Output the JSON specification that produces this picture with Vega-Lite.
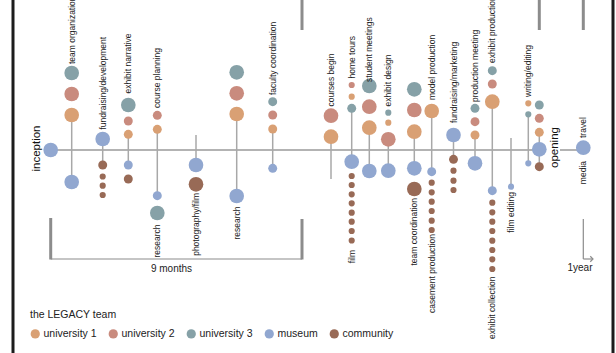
{
  "$schema": "https://vega.github.io/schema/vega-lite/v6.json",
  "width": 616,
  "height": 353,
  "padding": 0,
  "autosize": {"type": "none"},
  "background": "white",
  "config": {"view": {"stroke": null}, "font": "Liberation Sans"},
  "datasets": {
    "nodes": [
      {"t": 50.7, "v": 150, "team": "museum", "level": "large"},
      {"t": 71.7, "v": 73, "team": "university 3", "level": "large"},
      {"t": 71.7, "v": 94, "team": "university 2", "level": "large"},
      {"t": 71.7, "v": 115, "team": "university 1", "level": "large"},
      {"t": 71.7, "v": 182, "team": "museum", "level": "large"},
      {"t": 102.7, "v": 139, "team": "museum", "level": "large"},
      {"t": 102.7, "v": 165, "team": "community", "level": "medium"},
      {"t": 102.7, "v": 176.5, "team": "community", "level": "small"},
      {"t": 102.7, "v": 185.7, "team": "community", "level": "small"},
      {"t": 102.7, "v": 195, "team": "community", "level": "small"},
      {"t": 128.3, "v": 105, "team": "university 3", "level": "large"},
      {"t": 128.3, "v": 121, "team": "university 2", "level": "medium"},
      {"t": 128.3, "v": 134.3, "team": "university 1", "level": "medium"},
      {"t": 128.3, "v": 165, "team": "museum", "level": "medium"},
      {"t": 128.3, "v": 179, "team": "community", "level": "medium"},
      {"t": 157.3, "v": 115.3, "team": "university 2", "level": "medium"},
      {"t": 157.3, "v": 129.3, "team": "university 1", "level": "medium"},
      {"t": 157.3, "v": 195.7, "team": "museum", "level": "medium"},
      {"t": 157.3, "v": 213, "team": "university 3", "level": "large"},
      {"t": 196, "v": 165, "team": "museum", "level": "large"},
      {"t": 196, "v": 184.3, "team": "community", "level": "large"},
      {"t": 236.7, "v": 72.3, "team": "university 3", "level": "large"},
      {"t": 236.7, "v": 93.3, "team": "university 2", "level": "large"},
      {"t": 236.7, "v": 114, "team": "university 1", "level": "large"},
      {"t": 236.7, "v": 196, "team": "museum", "level": "large"},
      {"t": 272.7, "v": 101.7, "team": "university 3", "level": "medium"},
      {"t": 272.7, "v": 115, "team": "university 2", "level": "medium"},
      {"t": 272.7, "v": 129, "team": "university 1", "level": "medium"},
      {"t": 272.7, "v": 168.3, "team": "museum", "level": "medium"},
      {"t": 331, "v": 115.7, "team": "university 2", "level": "large"},
      {"t": 331, "v": 136.7, "team": "university 1", "level": "large"},
      {"t": 351.7, "v": 85, "team": "university 2", "level": "small"},
      {"t": 351.7, "v": 96.7, "team": "university 1", "level": "small"},
      {"t": 351.7, "v": 108.3, "team": "university 3", "level": "medium"},
      {"t": 351.7, "v": 161.7, "team": "museum", "level": "large"},
      {"t": 351.7, "v": 176, "team": "community", "level": "small"},
      {"t": 351.7, "v": 185, "team": "community", "level": "small"},
      {"t": 351.7, "v": 194.3, "team": "community", "level": "small"},
      {"t": 351.7, "v": 203.3, "team": "community", "level": "small"},
      {"t": 351.7, "v": 212.7, "team": "community", "level": "small"},
      {"t": 351.7, "v": 221.7, "team": "community", "level": "small"},
      {"t": 351.7, "v": 231, "team": "community", "level": "small"},
      {"t": 351.7, "v": 240.5, "team": "community", "level": "small"},
      {"t": 369.3, "v": 86, "team": "university 3", "level": "large"},
      {"t": 369.3, "v": 106.7, "team": "university 2", "level": "large"},
      {"t": 369.3, "v": 127.7, "team": "university 1", "level": "large"},
      {"t": 369.3, "v": 171, "team": "museum", "level": "large"},
      {"t": 388.3, "v": 112.7, "team": "university 3", "level": "small"},
      {"t": 388.3, "v": 122.7, "team": "university 1", "level": "small"},
      {"t": 388.3, "v": 139.3, "team": "university 2", "level": "large"},
      {"t": 388.3, "v": 170.7, "team": "museum", "level": "large"},
      {"t": 414.3, "v": 89.3, "team": "university 3", "level": "large"},
      {"t": 414.3, "v": 110, "team": "university 2", "level": "large"},
      {"t": 414.3, "v": 131.7, "team": "university 1", "level": "large"},
      {"t": 414.3, "v": 168.3, "team": "museum", "level": "large"},
      {"t": 414.3, "v": 189, "team": "community", "level": "large"},
      {"t": 431.7, "v": 111, "team": "university 1", "level": "large"},
      {"t": 431.7, "v": 171.7, "team": "museum", "level": "medium"},
      {"t": 431.7, "v": 182.7, "team": "community", "level": "small"},
      {"t": 431.7, "v": 192.3, "team": "community", "level": "small"},
      {"t": 431.7, "v": 201.7, "team": "community", "level": "small"},
      {"t": 431.7, "v": 211, "team": "community", "level": "small"},
      {"t": 431.7, "v": 220.7, "team": "community", "level": "small"},
      {"t": 431.7, "v": 230, "team": "community", "level": "small"},
      {"t": 453.5, "v": 135, "team": "museum", "level": "large"},
      {"t": 453.5, "v": 159.3, "team": "community", "level": "medium"},
      {"t": 453.5, "v": 170.7, "team": "community", "level": "small"},
      {"t": 453.5, "v": 180.7, "team": "community", "level": "small"},
      {"t": 453.5, "v": 190, "team": "community", "level": "small"},
      {"t": 475, "v": 108.3, "team": "university 3", "level": "medium"},
      {"t": 475, "v": 121.7, "team": "university 2", "level": "medium"},
      {"t": 475, "v": 135, "team": "university 1", "level": "medium"},
      {"t": 475, "v": 163.3, "team": "museum", "level": "large"},
      {"t": 492.3, "v": 70.7, "team": "university 3", "level": "medium"},
      {"t": 492.3, "v": 84, "team": "university 2", "level": "medium"},
      {"t": 492.3, "v": 101.7, "team": "university 1", "level": "large"},
      {"t": 492.3, "v": 190.7, "team": "museum", "level": "medium"},
      {"t": 492.3, "v": 202.7, "team": "community", "level": "small"},
      {"t": 492.3, "v": 212.3, "team": "community", "level": "small"},
      {"t": 492.3, "v": 221.7, "team": "community", "level": "small"},
      {"t": 492.3, "v": 231, "team": "community", "level": "small"},
      {"t": 492.3, "v": 240.7, "team": "community", "level": "small"},
      {"t": 492.3, "v": 250, "team": "community", "level": "small"},
      {"t": 492.3, "v": 259.3, "team": "community", "level": "small"},
      {"t": 492.3, "v": 269, "team": "community", "level": "small"},
      {"t": 511, "v": 186.7, "team": "museum", "level": "small"},
      {"t": 528.3, "v": 103.3, "team": "university 1", "level": "small"},
      {"t": 528.3, "v": 114.3, "team": "university 3", "level": "small"},
      {"t": 528.3, "v": 163.3, "team": "museum", "level": "small"},
      {"t": 539.3, "v": 105, "team": "university 3", "level": "medium"},
      {"t": 539.3, "v": 118.3, "team": "university 2", "level": "medium"},
      {"t": 539.3, "v": 132.3, "team": "university 1", "level": "medium"},
      {"t": 539.3, "v": 149.3, "team": "museum", "level": "large"},
      {"t": 539.3, "v": 166.7, "team": "community", "level": "medium"},
      {"t": 583.3, "v": 147.7, "team": "museum", "level": "large"}
    ],
    "stems": [
      {"t": 71.7, "v": 115, "v2": 182},
      {"t": 102.7, "v": 139, "v2": 165},
      {"t": 128.3, "v": 134.3, "v2": 165},
      {"t": 157.3, "v": 129.3, "v2": 195.7},
      {"t": 196, "v": 135, "v2": 165},
      {"t": 236.7, "v": 114, "v2": 196},
      {"t": 272.7, "v": 129, "v2": 168.3},
      {"t": 331, "v": 136.7, "v2": 179},
      {"t": 351.7, "v": 108.3, "v2": 161.7},
      {"t": 369.3, "v": 127.7, "v2": 171},
      {"t": 388.3, "v": 139.3, "v2": 170.7},
      {"t": 414.3, "v": 131.7, "v2": 168.3},
      {"t": 431.7, "v": 111, "v2": 171.7},
      {"t": 453.5, "v": 135, "v2": 159.3},
      {"t": 475, "v": 135, "v2": 163.3},
      {"t": 492.3, "v": 101.7, "v2": 190.7},
      {"t": 511, "v": 138, "v2": 186.7},
      {"t": 528.3, "v": 114.3, "v2": 163.3},
      {"t": 539.3, "v": 132.3, "v2": 166.7}
    ],
    "guides": [
      {"kind": "border", "t": 13, "t2": 13, "v": 0, "v2": 353},
      {"kind": "border", "t": 613, "t2": 613, "v": 0, "v2": 353},
      {"kind": "timeline", "t": 50.7, "t2": 541, "v": 150, "v2": 150},
      {"kind": "timeline", "t": 560, "t2": 583.3, "v": 150, "v2": 150},
      {"kind": "marker", "t": 302, "t2": 302, "v": 0, "v2": 30},
      {"kind": "marker", "t": 539.3, "t2": 539.3, "v": 0, "v2": 30},
      {"kind": "marker", "t": 583.3, "t2": 583.3, "v": 0, "v2": 30},
      {"kind": "marker", "t": 50.7, "t2": 50.7, "v": 218, "v2": 259.5},
      {"kind": "marker", "t": 302, "t2": 302, "v": 219, "v2": 259.5},
      {"kind": "bracket", "t": 50.7, "t2": 302, "v": 259, "v2": 259},
      {"kind": "bracket", "t": 583.3, "t2": 583.3, "v": 219, "v2": 259},
      {"kind": "bracket", "t": 583.3, "t2": 593, "v": 259, "v2": 259}
    ],
    "labels": [
      {"side": "above", "t": 71.7, "v": 64, "label": "team organization"},
      {"side": "above", "t": 102.7, "v": 129.5, "label": "fundraising/development"},
      {"side": "above", "t": 128.3, "v": 93.5, "label": "exhibit narrative"},
      {"side": "above", "t": 157.3, "v": 108, "label": "course planning"},
      {"side": "above", "t": 272.7, "v": 95, "label": "faculty coordination"},
      {"side": "above", "t": 331, "v": 106.5, "label": "courses begin"},
      {"side": "above", "t": 351.7, "v": 78.5, "label": "home tours"},
      {"side": "above", "t": 369.3, "v": 82, "label": "student meetings"},
      {"side": "above", "t": 388.3, "v": 106.5, "label": "exhibit design"},
      {"side": "above", "t": 431.7, "v": 100, "label": "model production"},
      {"side": "above", "t": 453.5, "v": 123, "label": "fundraising/marketing"},
      {"side": "above", "t": 475, "v": 102, "label": "production meeting"},
      {"side": "above", "t": 492.3, "v": 63, "label": "exhibit production"},
      {"side": "above", "t": 528.3, "v": 97, "label": "writing/editing"},
      {"side": "above", "t": 583.3, "v": 138, "label": "travel"},
      {"side": "below", "t": 157.3, "v": 224.5, "label": "research"},
      {"side": "below", "t": 196, "v": 193, "label": "photography/film"},
      {"side": "below", "t": 236.7, "v": 206.5, "label": "research"},
      {"side": "below", "t": 351.7, "v": 250, "label": "film"},
      {"side": "below", "t": 414.3, "v": 198, "label": "team coordination"},
      {"side": "below", "t": 431.7, "v": 234, "label": "casement production"},
      {"side": "below", "t": 492.3, "v": 276.5, "label": "exhibit collection"},
      {"side": "below", "t": 511, "v": 192, "label": "film editing"},
      {"side": "below", "t": 583.3, "v": 161, "label": "media"},
      {"side": "event", "t": 37, "v": 148.5, "label": "inception"},
      {"side": "event", "t": 555, "v": 147.5, "label": "opening"},
      {"side": "span", "t": 171.5, "v": 268.5, "label": "9 months"},
      {"side": "span", "t": 580, "v": 268.3, "label": "1year"}
    ],
    "arrows": [
      {"t": 593, "v": 259}
    ]
  },
  "encoding": {
    "x": {"field": "t", "type": "quantitative", "scale": {"domain": [0, 616], "range": [0, 616], "nice": false, "zero": false}, "axis": null},
    "y": {"field": "v", "type": "quantitative", "scale": {"domain": [0, 353], "range": [0, 353], "nice": false, "zero": false}, "axis": null}
  },
  "layer": [
    {
      "data": {"name": "guides"},
      "transform": [{"filter": "datum.kind == 'border'"}],
      "mark": {"type": "rule", "color": "#1c1c1c", "strokeWidth": 3},
      "encoding": {"x2": {"field": "t2"}, "y2": {"field": "v2"}}
    },
    {
      "data": {"name": "guides"},
      "transform": [{"filter": "datum.kind == 'timeline'"}],
      "mark": {"type": "rule", "color": "#9a9a9a", "strokeWidth": 1.5},
      "encoding": {"x2": {"field": "t2"}, "y2": {"field": "v2"}}
    },
    {
      "data": {"name": "guides"},
      "transform": [{"filter": "datum.kind == 'marker'"}],
      "mark": {"type": "rule", "color": "#8c8c8c", "strokeWidth": 3},
      "encoding": {"x2": {"field": "t2"}, "y2": {"field": "v2"}}
    },
    {
      "data": {"name": "guides"},
      "transform": [{"filter": "datum.kind == 'bracket'"}],
      "mark": {"type": "rule", "color": "#8c8c8c", "strokeWidth": 1.2},
      "encoding": {"x2": {"field": "t2"}, "y2": {"field": "v2"}}
    },
    {
      "data": {"name": "arrows"},
      "mark": {"type": "point", "shape": "M-1,-1L0,0L-1,1", "filled": false, "stroke": "#8c8c8c", "strokeWidth": 1.2, "size": 30, "opacity": 1},
      "encoding": {}
    },
    {
      "data": {"name": "stems"},
      "mark": {"type": "rule", "color": "#a8a8a8", "strokeWidth": 1.5},
      "encoding": {"y2": {"field": "v2"}}
    },
    {
      "data": {"name": "nodes"},
      "mark": {"type": "circle", "opacity": 1, "stroke": null},
      "encoding": {
        "color": {
          "field": "team", "type": "nominal",
          "scale": {
            "domain": ["university 1", "university 2", "university 3", "museum", "community"],
            "range": ["#D9A074", "#C98B7E", "#86A1A7", "#91A7D0", "#986A56"]
          },
          "legend": {
            "orient": "none", "legendX": 30, "legendY": 310, "direction": "horizontal",
            "title": "the LEGACY team", "titleFontSize": 10.5, "titleFontWeight": "normal", "titleColor": "#222",
            "titleFont": "Liberation Sans", "titlePadding": 8,
            "labelFontSize": 10.5, "labelColor": "#222", "labelFont": "Liberation Sans", "labelOffset": 3,
            "symbolType": "circle", "symbolSize": 85, "symbolStrokeWidth": 0, "symbolOpacity": 1,
            "columnPadding": 11
          }
        },
        "size": {
          "field": "level", "type": "nominal",
          "scale": {"type": "ordinal", "domain": ["small", "medium", "large"], "range": [38, 80, 215]},
          "legend": null
        }
      }
    },
    {
      "data": {"name": "labels"},
      "transform": [{"filter": "datum.side == 'above'"}],
      "mark": {"type": "text", "angle": 270, "align": "left", "baseline": "middle", "fontSize": 8.5, "font": "Liberation Sans", "color": "#222"},
      "encoding": {"text": {"field": "label"}}
    },
    {
      "data": {"name": "labels"},
      "transform": [{"filter": "datum.side == 'below'"}],
      "mark": {"type": "text", "angle": 270, "align": "right", "baseline": "middle", "fontSize": 8.5, "font": "Liberation Sans", "color": "#222"},
      "encoding": {"text": {"field": "label"}}
    },
    {
      "data": {"name": "labels"},
      "transform": [{"filter": "datum.side == 'event'"}],
      "mark": {"type": "text", "angle": 270, "align": "center", "baseline": "middle", "fontSize": 11.5, "font": "Liberation Sans", "color": "#111"},
      "encoding": {"text": {"field": "label"}}
    },
    {
      "data": {"name": "labels"},
      "transform": [{"filter": "datum.side == 'span'"}],
      "mark": {"type": "text", "align": "center", "baseline": "middle", "fontSize": 10, "font": "Liberation Sans", "color": "#222"},
      "encoding": {"text": {"field": "label"}}
    }
  ]
}
